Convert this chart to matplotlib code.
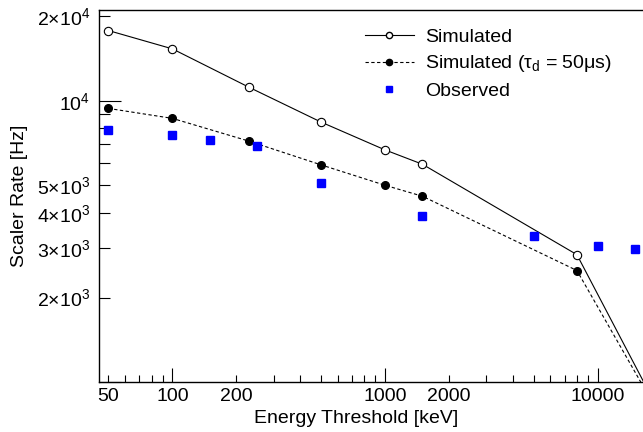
import matplotlib.pyplot as plt
import matplotlib.lines as mlines

plt.rcParams['font.family'] = ['Liberation Sans', 'DejaVu Sans']
plt.rcParams['mathtext.fontset'] = 'custom'
plt.rcParams['mathtext.rm'] = 'Liberation Sans'
plt.rcParams['mathtext.it'] = 'Liberation Sans:italic'

# data
sim_x = [50, 100, 230, 500, 1000, 1500, 8000, 20000]
sim_y = [17750, 15280, 11150, 8400, 6690, 5950, 2840, 760]

dead_x = [50, 100, 230, 500, 1000, 1500, 8000, 20000]
dead_y = [9390, 8655, 7180, 5920, 5010, 4580, 2495, 745]

obs_x = [50, 100, 150, 250, 500, 1500, 5000, 10000, 15000]
obs_y = [7870, 7560, 7260, 6910, 5085, 3890, 3300, 3060, 2970]

fig = plt.figure(figsize=(6.43, 4.32), dpi=100)
ax = fig.add_axes([0.1532, 0.115, 0.8468, 0.8619])

ax.plot(sim_x, sim_y, '-', color='black', lw=0.8, marker='o', ms=6,
        mfc='white', mec='black', mew=0.8)
ax.plot(dead_x, dead_y, color='black', lw=0.8, ls=(0, (3, 2.2)), marker='o',
        ms=5.5, mfc='black', mec='black')
ax.plot(obs_x, obs_y, 's', color='#0000ff', ms=5.5, mec='#0000ff', lw=0)

ax.set_xscale('log')
ax.set_yscale('log')
ax.set_xlim(44.9, 16370)
ax.set_ylim(1000, 21000)

# x ticks
ax.set_xticks([100, 1000, 10000], ['100', '1000', '10000'])
xminor = [50, 60, 70, 80, 90] + [200, 300, 400, 500, 600, 700, 800, 900] + \
    [2000, 3000, 4000, 5000, 6000, 7000, 8000, 9000]
xminor_lab = ['50', '', '', '', '', '200', '', '', '', '', '', '', '',
              '2000', '', '', '', '', '', '', '']
ax.set_xticks(xminor, xminor_lab, minor=True)

# y ticks
ax.set_yticks([1000, 10000], ['', '10$^{4}$'])
yminor = [2000, 3000, 4000, 5000, 6000, 7000, 8000, 9000, 20000]
yminor_lab = ['2×10$^{3}$', '3×10$^{3}$', '4×10$^{3}$', '5×10$^{3}$',
              '', '', '', '', '2×10$^{4}$']
ax.set_yticks(yminor, yminor_lab, minor=True)

ax.tick_params(which='both', direction='in', labelsize=14, width=0.8,
               top=False, right=False)
ax.tick_params(which='major', length=10, pad=4)
ax.tick_params(which='minor', length=5, pad=4)
ax.tick_params(axis='y', which='major', length=16, pad=6)
ax.tick_params(axis='y', which='minor', length=8, pad=6)

ax.spines['right'].set_visible(False)
for s in ['left', 'bottom', 'top']:
    ax.spines[s].set_linewidth(1.0)

ax.set_xlabel('Energy Threshold [keV]', fontsize=14)
ax.xaxis.set_label_coords(0.473, -0.075)
ax.set_ylabel('Scaler Rate [Hz]', fontsize=14)
ax.yaxis.set_label_coords(-0.130, 0.5)

h1 = mlines.Line2D([], [], color='black', lw=0.8, marker='o', ms=4.5,
                   mfc='white', mec='black')
h2 = mlines.Line2D([], [], color='black', lw=0.8, ls=(0, (3, 2.2)),
                   marker='o', ms=4.5, mfc='black')
h3 = mlines.Line2D([], [], color='#0000ff', lw=0, marker='s', ms=5)
fig.legend([h1, h2, h3],
           ['Simulated', 'Simulated (τ$_{\\rm d}$ = 50μs)', 'Observed'],
           loc='upper left', bbox_to_anchor=(365 / 643, 1 - 28 / 432),
           frameon=False, fontsize=14, handlelength=2.5, handletextpad=0.6,
           labelspacing=0.4, borderpad=0, borderaxespad=0)

fig.savefig('out.png', dpi=100)
